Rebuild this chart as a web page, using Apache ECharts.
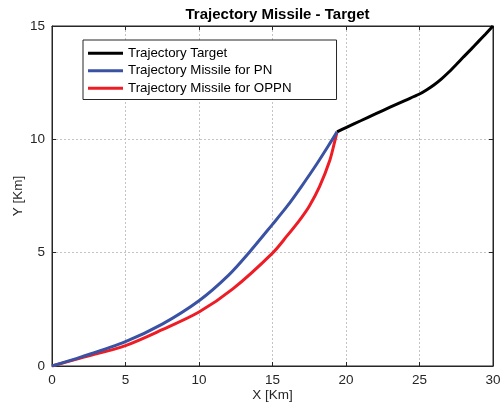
<!DOCTYPE html>
<html>
<head>
<meta charset="utf-8">
<script src="https://cdn.jsdelivr.net/npm/echarts@6/dist/echarts.min.js"></script>
<style>html,body{margin:0;padding:0;background:#fff;}#c{width:501px;height:409px;}</style>
</head>
<body>
<div id="c"></div>
<script>
var xTicks = [0, 5, 10, 15, 20, 25, 30];
var yTicks = [0, 5, 10, 15];

var targetX = [19.39, 20, 21, 22, 23, 24, 25, 25.5, 26, 26.5, 27, 27.5, 28, 28.5, 29, 29.5, 30];
var targetY = [10.33, 10.52, 10.82, 11.12, 11.42, 11.71, 12.0, 12.19, 12.41, 12.67, 12.97, 13.3, 13.64, 13.97, 14.31, 14.65, 15.0];

var pnX = [0, 2, 5, 7.5, 10, 12, 13.4, 15, 16, 17, 18, 19, 19.39];
var pnY = [0, 0.4, 1.08, 1.85, 2.88, 4.0, 5.0, 6.25, 7.05, 7.95, 8.9, 9.92, 10.33];

var oppnX = [0, 2, 5, 7.5, 10, 12.3, 15, 16, 16.86, 17.5, 18.2, 18.9, 19.23, 19.39];
var oppnY = [0, 0.36, 0.9, 1.6, 2.38, 3.4, 4.98, 5.75, 6.45, 7.05, 7.91, 9.08, 9.9, 10.33];

function pairs(xs, ys) { return xs.map(function (x, i) { return [x, ys[i]]; }); }

var chart = echarts.init(document.getElementById('c'), null, { renderer: 'canvas' });
var font = 'Liberation Sans, Arial, Helvetica, sans-serif';
var txt = '#262626';

var axisCommon = {
  type: 'value',
  axisLine: { show: true, onZero: false, lineStyle: { color: '#262626', width: 1 } },
  axisTick: { show: true, inside: true, length: 4, lineStyle: { color: '#262626' } }
};

chart.setOption({
  animation: false,
  backgroundColor: '#fff',
  title: {
    text: 'Trajectory Missile - Target',
    left: 272.5, top: 2, textAlign: 'center',
    textStyle: { fontFamily: font, fontSize: 15, fontWeight: 'bold', color: '#000' }
  },
  grid: { left: 52, right: 8, top: 26, bottom: 43, outerBoundsMode: 'none', containLabel: false,
    show: true, borderColor: '#262626', borderWidth: 1, backgroundColor: '#fff' },
  legend: {
    orient: 'vertical', left: 83, top: 40,
    padding: [6, 45, 4, 5],
    itemWidth: 35, itemHeight: 3, itemGap: 3, itemTextGap: 4,
    icon: 'rect',
    borderColor: '#262626', borderWidth: 1, backgroundColor: '#fff',
    textStyle: { fontFamily: font, fontSize: 13.3, color: '#000', lineHeight: 14.5 },
    data: ['Trajectory Target', 'Trajectory Missile for PN', 'Trajectory Missile for OPPN']
  },
  xAxis: [
    Object.assign({}, axisCommon, {
      min: 0, max: 30, interval: 5, position: 'bottom',
      name: 'X [Km]', nameLocation: 'middle', nameGap: 22, nameMoveOverlap: false,
      nameTextStyle: { fontFamily: font, fontSize: 13.5, color: txt },
      axisLabel: { fontFamily: font, fontSize: 13.5, color: txt, margin: 7 },
      splitLine: { show: true, lineStyle: { color: '#c4c4c4', type: [2, 2], width: 1 } }
    }),
    Object.assign({}, axisCommon, {
      min: 0, max: 30, interval: 5, position: 'top',
      axisLabel: { show: false }, splitLine: { show: false }
    })
  ],
  yAxis: [
    Object.assign({}, axisCommon, {
      min: 0, max: 15, interval: 5, position: 'left',
      name: 'Y [Km]', nameLocation: 'middle', nameGap: 27, nameRotate: 90, nameMoveOverlap: false,
      nameTextStyle: { fontFamily: font, fontSize: 13.5, color: txt },
      axisLabel: { fontFamily: font, fontSize: 13.5, color: txt, margin: 7 },
      splitLine: { show: true, lineStyle: { color: '#c4c4c4', type: [2, 2], width: 1 } }
    }),
    Object.assign({}, axisCommon, {
      min: 0, max: 15, interval: 5, position: 'right',
      axisLabel: { show: false }, splitLine: { show: false }
    })
  ],
  series: [
    {
      name: 'Trajectory Target', type: 'line', data: pairs(targetX, targetY),
      smooth: 0.3, showSymbol: false, symbol: 'none',
      lineStyle: { color: '#000000', width: 3 }, itemStyle: { color: '#000000' }, z: 3
    },
    {
      name: 'Trajectory Missile for OPPN', type: 'line', data: pairs(oppnX, oppnY),
      smooth: 0.3, showSymbol: false, symbol: 'none',
      lineStyle: { color: '#ee1c25', width: 3 }, itemStyle: { color: '#ee1c25' }, z: 2
    },
    {
      name: 'Trajectory Missile for PN', type: 'line', data: pairs(pnX, pnY),
      smooth: 0.3, showSymbol: false, symbol: 'none',
      lineStyle: { color: '#3a52a3', width: 3 }, itemStyle: { color: '#3a52a3' }, z: 4
    }
  ]
});
</script>
</body>
</html>
